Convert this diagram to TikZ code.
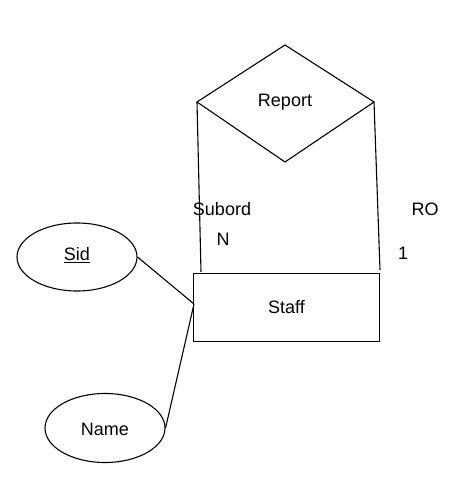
\documentclass[tikz,border=0pt]{standalone}
\usepackage{fontspec}
\setmainfont{Liberation Sans}
\usetikzlibrary{shapes.geometric}
\begin{document}
\begin{tikzpicture}[x=1pt,y=-1pt,
  lbl/.style={font=\fontsize{18}{20}\selectfont, inner sep=0pt},
  ln/.style={line width=1.1pt}]
\useasboundingbox (0,0) rectangle (469,486);
% diamond
\coordinate (dT) at (285,45);
\coordinate (dL) at (197,102);
\coordinate (dR) at (374,102);
\coordinate (dB) at (285,162);
\draw[ln] (dT) -- (dR) -- (dB) -- (dL) -- cycle;
\node[lbl] (report) at (285,102) {Report};
% entity
\node[draw, ln, minimum width=186pt, minimum height=68pt, inner sep=0pt, anchor=north west] (staff) at (193,273) {};
\node[lbl] (stafftxt) at (staff.center) {Staff};
% attributes
\node[draw, ln, ellipse, minimum width=120pt, minimum height=68pt, inner sep=0pt] (sid) at (77,257) {};
\node[lbl] (sidtxt) at (77,255) {\underline{Sid}};
\node[draw, ln, ellipse, minimum width=120pt, minimum height=69pt, inner sep=0pt] (name) at (105,428) {};
\node[lbl] (nametxt) at (105,429) {Name};
% connectors
\coordinate (sL) at (201,272);
\coordinate (sR) at (380,270);
\coordinate (sM) at (194,304);
\draw[ln] (dL) -- (sL);
\draw[ln] (dR) -- (sR);
\draw[ln] (sid.east) -- (sM);
\draw[ln] (name.east) -- (sM);
% labels
\node[lbl] (subord) at (222,209) {Subord};
\node[lbl] (n) at (223,239) {N};
\node[lbl] (ro) at (425,209) {RO};
\node[lbl] (one) at (403,253) {1};
\end{tikzpicture}
\end{document}
